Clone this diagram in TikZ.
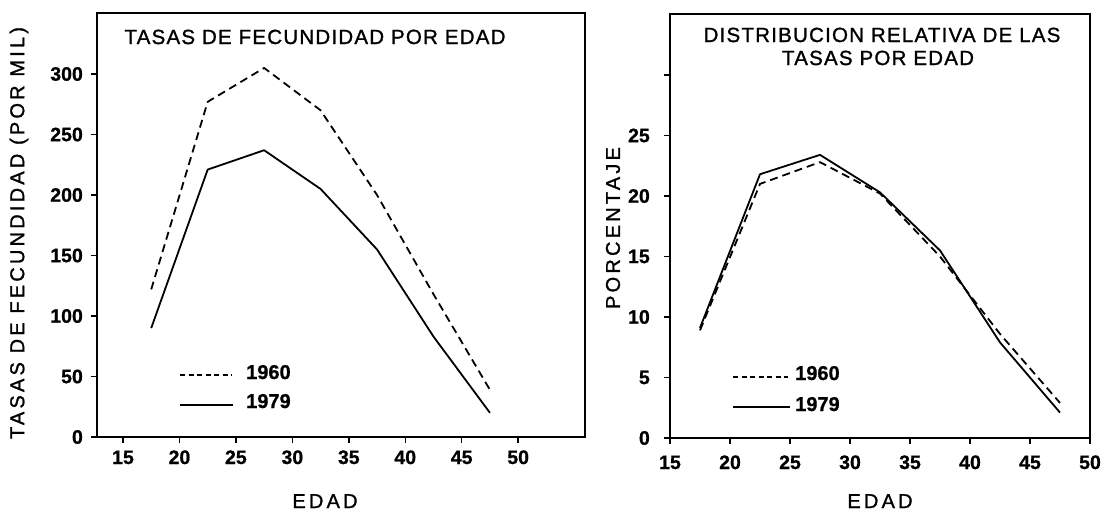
\documentclass[tikz,border=0pt]{standalone}
\usepackage{fontspec}
\setmainfont{Liberation Sans}
\newfontfamily\lsA[LetterSpace=6,FakeBold=1.2]{Liberation Sans}
\newfontfamily\lsB[LetterSpace=16,FakeBold=1.2]{Liberation Sans}
\newfontfamily\numf[FakeBold=0.8]{Liberation Sans Bold}
\tikzset{
  frame/.style={line width=1.8pt},
  tick/.style={line width=1.4pt},
  curve/.style={line width=1.8pt, line join=round},
  dcurve/.style={curve, dash pattern=on 8pt off 5pt},
  ldash/.style={line width=1.6pt, dash pattern=on 5pt off 3.5pt},
  lsolid/.style={line width=1.7pt},
  tk/.style={font=\fontsize{19.5}{21}\numf, inner sep=0pt},
  leg/.style={font=\fontsize{20}{22}\numf, inner sep=0pt, anchor=base west},
  ttl/.style={font=\fontsize{20.5}{22}\lsA, inner sep=0pt, anchor=base},
  axl/.style={font=\fontsize{20}{22}\lsB, inner sep=0pt},
}
\begin{document}
\begin{tikzpicture}[x=1pt,y=-1pt]
\useasboundingbox (0,0) rectangle (1111,514);
% ---------------- LEFT PANEL ----------------
\begin{scope}[shift={(-46.35pt,-437pt)}, x=11.29pt, y=1.21pt]
  \draw[frame] (12.7,0) rectangle (55.92,350.4);
  \foreach \v in {0,50,...,300} {
    \draw[tick] (12.7,\v) -- ++(-6pt,0);
    \node[tk, anchor=east] (ly\v) at ([xshift=-14pt]12.7,\v) {\v};
  }
  \foreach \a in {15,20,...,50} {
    \draw[tick] (\a,0) -- ++(0,-6pt);
    \node[tk, anchor=base] (lx\a) at ([yshift=-27pt]\a,0) {\a};
  }
  \foreach \a/\v [count=\i] in {17.5/122,22.5/277,27.5/305,32.5/270,37.5/200,42.5/118,47.5/39}
    \coordinate (La\i) at (\a,\v);
  \foreach \a/\v [count=\i] in {17.5/90,22.5/221,27.5/237,32.5/205,37.5/155,42.5/83,47.5/20}
    \coordinate (Lb\i) at (\a,\v);
  \draw[dcurve] (La1) -- (La2) -- (La3) -- (La4) -- (La5) -- (La6) -- (La7);
  \draw[curve] (Lb1) -- (Lb2) -- (Lb3) -- (Lb4) -- (Lb5) -- (Lb6) -- (Lb7);
\end{scope}
\coordinate (lgA1) at (180,375); \coordinate (lgA2) at (232,375);
\coordinate (lgB1) at (180,405); \coordinate (lgB2) at (233,405);
\draw[ldash] (lgA1) -- (lgA2);
\draw[lsolid] (lgB1) -- (lgB2);
\node[leg] (lt1960) at (246,379) {1960};
\node[leg] (lt1979) at (246,408) {1979};
\node[ttl] (ltitle) at (315,44) {TASAS DE FECUNDIDAD POR EDAD};
\node[axl, rotate=90] (lylab) at (19,233) {TASAS DE FECUNDIDAD (POR MIL)};
\node[axl, anchor=base] (lxlab) at (325,508) {EDAD};
% ---------------- RIGHT PANEL ----------------
\begin{scope}[shift={(490pt,-438pt)}, x=12pt, y=12.1pt]
  \draw[frame] (15,0) rectangle (50,35.04);
  \foreach \v in {0,5,...,30} {
    \draw[tick] (15,\v) -- ++(-6pt,0);
  }
  \foreach \v in {0,5,...,25} {
    \node[tk, anchor=east] (ry\v) at ([xshift=-20pt]15,\v) {\v};
  }
  \foreach \a in {15,20,...,50} {
    \draw[tick] (\a,0) -- ++(0,-6pt);
    \node[tk, anchor=base] (rx\a) at ([yshift=-31pt]\a,0) {\a};
  }
  \foreach \a/\v [count=\i] in {17.5/8.9,22.5/21.0,27.5/22.8,32.5/20.2,37.5/15.0,42.5/8.6,47.5/2.9}
    \coordinate (Ra\i) at (\a,\v);
  \foreach \a/\v [count=\i] in {17.5/9.1,22.5/21.8,27.5/23.4,32.5/20.3,37.5/15.5,42.5/7.9,47.5/2.1}
    \coordinate (Rb\i) at (\a,\v);
  \draw[dcurve] (Ra1) -- (Ra2) -- (Ra3) -- (Ra4) -- (Ra5) -- (Ra6) -- (Ra7);
  \draw[curve] (Rb1) -- (Rb2) -- (Rb3) -- (Rb4) -- (Rb5) -- (Rb6) -- (Rb7);
\end{scope}
\coordinate (rgA1) at (733,377); \coordinate (rgA2) at (788,377);
\coordinate (rgB1) at (733,407); \coordinate (rgB2) at (790,407);
\draw[ldash] (rgA1) -- (rgA2);
\draw[lsolid] (rgB1) -- (rgB2);
\node[leg] (rt1960) at (795,380) {1960};
\node[leg] (rt1979) at (795,411) {1979};
\node[ttl] (rtitle1) at (882,42) {DISTRIBUCION RELATIVA DE LAS};
\node[ttl] (rtitle2) at (878,65) {TASAS POR EDAD};
\node[axl, rotate=90] (rylab) at (613,228) {PORCENTAJE};
\node[axl, anchor=base] (rxlab) at (880,508) {EDAD};
\end{tikzpicture}
\end{document}
